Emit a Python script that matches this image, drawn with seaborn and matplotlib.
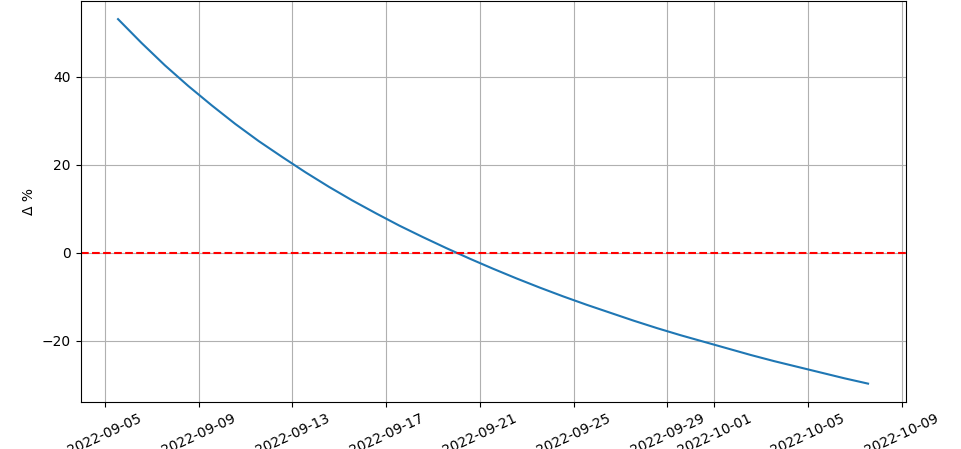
import numpy as np
import pandas as pd
import matplotlib
matplotlib.use("Agg")
import matplotlib.pyplot as plt
import seaborn as sns

# ----------------------------------------------------------------------------
# Données (une valeur par jour)
# ----------------------------------------------------------------------------
START = "2022-09-05 13:30"
N_DAYS = 33
delta_pct = [
    53.1, 47.7, 42.6, 37.9, 33.5, 29.3, 25.4, 21.8, 18.3, 15.0, 11.9,
    9.0, 6.2, 3.6, 1.1, -1.3, -3.6, -5.8, -7.9, -9.9, -11.8, -13.6,
    -15.4, -17.1, -18.7, -20.2, -21.7, -23.2, -24.6, -25.9, -27.2, -28.5, -29.7,
]
Y_LABEL = "Δ %"

dates = pd.date_range(START, periods=N_DAYS, freq="D")
df = pd.DataFrame({"date": dates, "delta": delta_pct})

fig, ax = plt.subplots(figsize=(9.61, 4.49), dpi=100)
fig.subplots_adjust(left=0.0838, right=0.9423, top=0.998, bottom=0.105)

sns.lineplot(data=df, x="date", y="delta", ax=ax, color="#1f77b4")
ax.axhline(0, color="r", linestyle="--")
ax.grid(True)
ax.set_xlabel("")
ax.set_ylabel(Y_LABEL)
plt.xticks(rotation=25)

fig.savefig("out.png", dpi=100)
